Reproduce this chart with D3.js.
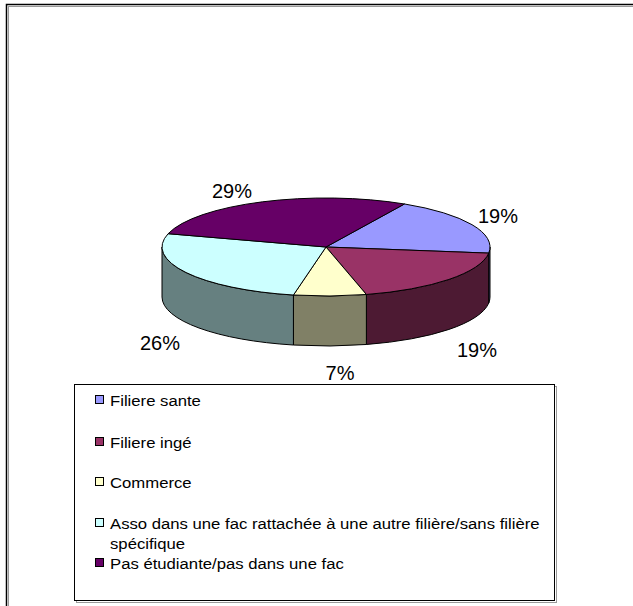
<!DOCTYPE html>
<html>
<head>
<meta charset="utf-8">
<script src="https://cdn.jsdelivr.net/npm/d3@7"></script>
<style>
  body { margin: 0; background: #fff; }
  text { font-family: Arial, "Liberation Sans", sans-serif; }
</style>
</head>
<body>
<div id="chart"></div>
<script>
var width = 633, height = 606;

// data
var categories = ["Filiere sante", "Filiere ingé", "Commerce",
                  "Asso dans une fac rattachée à une autre filière/sans filière spécifique",
                  "Pas étudiante/pas dans une fac"];
var values = [8, 8, 3, 11, 12];
var topColors = ["#9999FF", "#993366", "#FFFFCC", "#CCFFFF", "#660066"];
var sideColors = ["#4D4D80", "#4D1A33", "#808066", "#668080", "#330033"];
var labelPos = [[498, 223], [477, 357], [340, 380], [160, 350], [232, 198]];

var svg = d3.select("#chart").append("svg")
    .attr("width", width)
    .attr("height", height);

// outer frame
svg.append("rect").attr("x", 8.5).attr("y", 6.5).attr("width", 800).attr("height", 800)
   .attr("fill", "none").attr("stroke", "#999");
svg.append("rect").attr("x", 6.5).attr("y", 4.5).attr("width", 800).attr("height", 800)
   .attr("fill", "none").attr("stroke", "#000").attr("stroke-width", 1.5);

// 3d pie geometry
var cx = 326, cy = 247, rx = 164, ry = 49, depth = 50;
var startDeg = 28.6;

var pie = d3.pie().sort(null).value(function(d) { return d; })
    .startAngle(startDeg * Math.PI / 180)
    .endAngle(startDeg * Math.PI / 180 + 2 * Math.PI);
var arcs = pie(values);

function pt(a, dy) {
  return [cx + rx * Math.sin(a), cy - ry * Math.cos(a) + (dy || 0)];
}

function topPath(d) {
  var p0 = pt(d.startAngle), p1 = pt(d.endAngle);
  var large = (d.endAngle - d.startAngle) > Math.PI ? 1 : 0;
  return "M" + cx + "," + cy + "L" + p0 + "A" + rx + "," + ry + " 0 " + large + " 1 " + p1 + "Z";
}

// front half of the wall runs from 90deg to 270deg (clockwise from 12 o'clock)
function sidePath(s, e) {
  var p0 = pt(s), p1 = pt(e), q0 = pt(s, depth), q1 = pt(e, depth);
  return "M" + p0 + "A" + rx + "," + ry + " 0 0 1 " + p1 + "L" + q1 +
         "A" + rx + "," + ry + " 0 0 0 " + q0 + "Z";
}

var sides = [];
arcs.forEach(function(d, i) {
  [0, 2 * Math.PI].forEach(function(off) {
    var s = Math.max(d.startAngle - off, Math.PI / 2);
    var e = Math.min(d.endAngle - off, 3 * Math.PI / 2);
    if (e > s) sides.push({ s: s, e: e, i: i });
  });
});

svg.append("g").selectAll("path")
   .data(sides)
   .enter().append("path")
   .attr("d", function(d) { return sidePath(d.s, d.e); })
   .attr("fill", function(d) { return sideColors[d.i]; })
   .attr("stroke", "#000")
   .attr("stroke-width", 1)
   .attr("stroke-linejoin", "round");

svg.append("g").selectAll("path")
   .data(arcs)
   .enter().append("path")
   .attr("d", topPath)
   .attr("fill", function(d, i) { return topColors[i]; })
   .attr("stroke", "#000")
   .attr("stroke-width", 1)
   .attr("stroke-linejoin", "round");

// percentage labels
var total = d3.sum(values);
svg.append("g").selectAll("text")
   .data(values)
   .enter().append("text")
   .attr("x", function(d, i) { return labelPos[i][0]; })
   .attr("y", function(d, i) { return labelPos[i][1]; })
   .attr("text-anchor", "middle")
   .attr("font-size", 20)
   .text(function(d) { return Math.round(d / total * 100) + "%"; });

// legend
svg.append("rect").attr("x", 76.5).attr("y", 386.5).attr("width", 480).attr("height", 216)
   .attr("fill", "none").attr("stroke", "#999");
svg.append("rect").attr("x", 74.5).attr("y", 384.5).attr("width", 480).attr("height", 216)
   .attr("fill", "#fff").attr("stroke", "#000");

var legendRows = [400, 442, 482, 523, 563];
var lg = svg.append("g").selectAll("g")
   .data(categories)
   .enter().append("g");

lg.append("rect")
  .attr("x", 95.5)
  .attr("y", function(d, i) { return legendRows[i] - 4.5; })
  .attr("width", 8).attr("height", 8)
  .attr("fill", function(d, i) { return topColors[i]; })
  .attr("stroke", "#000");

var labels = lg.append("text")
  .attr("font-size", 14.5)
  .each(function(d, i) {
    var t = d3.select(this);
    if (i === 3) {
      t.append("tspan").attr("class", "longline").attr("x", 0).text("Asso dans une fac rattachée à une autre filière/sans filière");
      t.append("tspan").attr("x", 0).attr("dy", 21).text("spécifique");
    } else {
      t.text(d);
    }
  });

// the long line spans about 430px in the original; stretch all legend text alike
var longW = svg.select(".longline").node().getComputedTextLength();
var sx = 430 / longW;
labels.attr("transform", function(d, i) {
  return "translate(110," + (legendRows[i] + 5.5) + ") scale(" + sx + ",1)";
});
</script>
</body>
</html>
